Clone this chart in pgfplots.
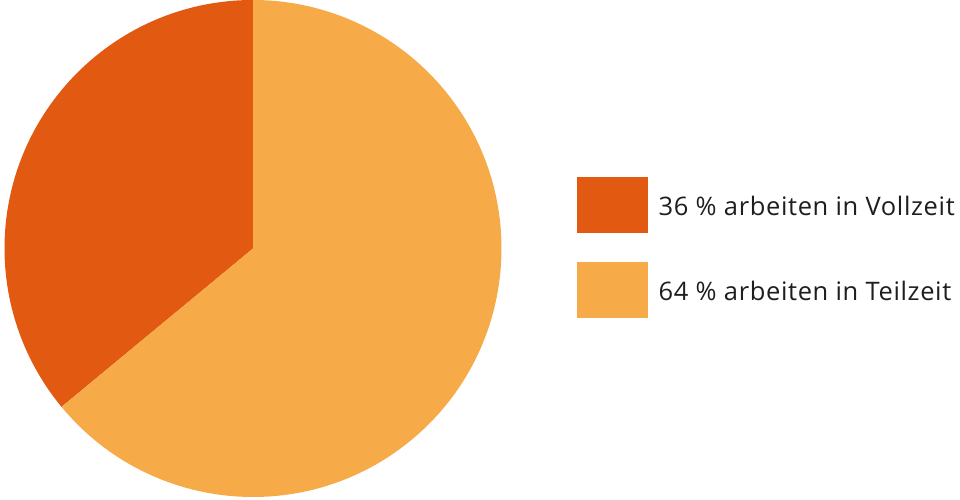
\documentclass[border=0pt]{standalone}
\usepackage{fontspec}
\setmainfont{Open Sans}[LetterSpace=2.5]
\usepackage{pgfplots}
\pgfplotsset{compat=1.18}
\usepackage{pgfplotstable}
\usetikzlibrary{calc}

\definecolor{voll}{HTML}{E25912}
\definecolor{teil}{HTML}{F6AB48}
\definecolor{txt}{HTML}{1E1E1E}

% share of employees (percent)
\pgfplotstableread{
share
36
64
}\piedata

\begin{document}
\begin{tikzpicture}
\pgfplotstablegetelem{0}{share}\of\piedata \let\vollval\pgfplotsretval
\pgfplotstablegetelem{1}{share}\of\piedata \let\teilval\pgfplotsretval
\pgfmathsetmacro{\angA}{90+3.6*\vollval}
\pgfmathsetmacro{\angB}{\angA+3.6*\teilval}
    \begin{axis}[
        hide axis,
        scale only axis,
        x=1pt, y=1pt,
        xmin=-253, xmax=707,
        ymin=-251.5, ymax=248.5,
        clip=false,
        legend cell align=left,
        legend style={
            at={(0.601,0.646)}, anchor=north west,
            draw=none, fill=none, inner sep=0pt,
            font=\fontsize{25.5}{30}\selectfont\color{txt},
            row sep=29pt, column sep=10.5pt,
            nodes={inner sep=0pt},
        },
        legend image code/.code={\fill[#1] (0pt,-26.5pt) rectangle (71pt,29.5pt);},
    ]
    \fill[voll] (axis cs:0,0) -- (axis cs:0,248.5) arc[start angle=90, end angle=\angA, radius=248.5pt] -- cycle;
    \fill[teil] (axis cs:0,0) -- ($(axis cs:0,0)+(\angA:248.5pt)$) arc[start angle=\angA, end angle=\angB, radius=248.5pt] -- cycle;
    \addlegendimage{fill=voll, draw=none}
    \addlegendentry{36 \% arbeiten in Vollzeit}
    \addlegendimage{fill=teil, draw=none}
    \addlegendentry{64 \% arbeiten in Teilzeit}
    \end{axis}
\pgfresetboundingbox
\path[use as bounding box] (current axis.south west) rectangle (current axis.north east);
\end{tikzpicture}
\end{document}
